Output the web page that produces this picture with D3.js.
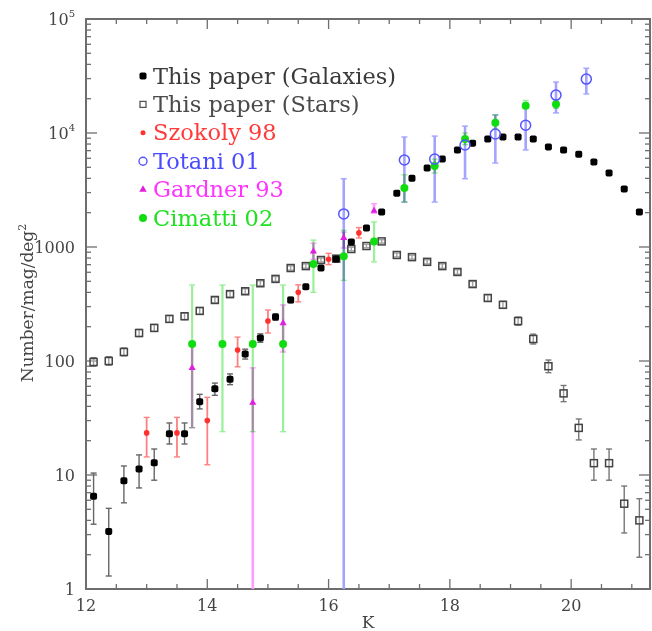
<!DOCTYPE html>
<html>
<head>
<meta charset="utf-8">
<script src="https://cdn.jsdelivr.net/npm/d3@7"></script>
<style>
    body { margin: 0; background: #fff; }
    svg { display: block; }
    text { font-family: "DejaVu Serif", serif; }
</style>
</head>
<body>
<svg id="chart"></svg>
<script>
// K magnitude bins (0.25 mag) shared by the two "this paper" series
var binK = [12.125, 12.375, 12.625, 12.875, 13.125, 13.375, 13.625, 13.875, 14.125, 14.375,
    14.625, 14.875, 15.125, 15.375, 15.625, 15.875, 16.125, 16.375, 16.625, 16.875,
    17.125, 17.375, 17.625, 17.875, 18.125, 18.375, 18.625, 18.875, 19.125, 19.375,
    19.625, 19.875, 20.125, 20.375, 20.625, 20.875, 21.125];

var galN  = [6.5, 3.2, 8.9, 11.3, 12.8, 23, 23, 44, 57, 69,
    115, 159, 243, 343, 447, 654, 785, 1106, 1468, 2028,
    2960, 4000, 4920, 5900, 7100, 8150, 8860, 9230, 9230, 8860,
    7550, 7100, 6500, 5570, 4460, 3230, 2030];
var galLo = [3.7, 1.3, 5.7, 7.7, 9.0, 18.7, 18.7, 38, 50, 62, 104, 146, 228, 325];
var galHi = [10.4, 5.1, 12, 15, 16.9, 28.6, 28.6, 51, 64, 77, 127, 173, 259, 362];

var starN  = [98, 100, 120, 176, 195, 234, 247, 275, 343, 386,
    409, 481, 525, 654, 680, 769, 790, 960, 1020, 1120,
    851, 815, 741, 680, 604, 473, 357, 311, 224, 156,
    90, 52, 25.9, 12.7, 12.7, 5.6, 4.0];
var starLo = [90, 92, 111, 164, 182, 219, 231, 258, 324, 365,
    388, 458, 500, 626, 651, 738, 758, 925, 984, 1082,
    818, 783, 710, 650, 576, 448, 335, 290, 206, 141,
    79, 44, 20.3, 9.0, 9.0, 3.1, 1.9];
var starHi = [107, 109, 130, 189, 209, 250, 263, 293, 363, 408,
    431, 505, 551, 683, 710, 801, 822, 996, 1057, 1159,
    885, 848, 773, 711, 633, 499, 380, 333, 243, 172,
    102, 61, 31, 16.9, 16.9, 8.0, 6.2];

var szoK  = [13.0, 13.5, 14.0, 14.5, 15.0, 15.5, 16.0, 16.5];
var szoN  = [23.4, 23.4, 30, 125, 224, 400, 780, 1330];
var szoLo = [14.4, 14.4, 12.3, 89, 176, 330, 700, 1200];
var szoHi = [32, 32, 48, 162, 280, 466, 880, 1480];

var totK  = [16.25, 17.25, 17.75, 18.25, 18.75, 19.25, 19.75, 20.25];
var totN  = [1950, 5800, 5900, 7850, 9800, 11700, 21500, 29700];
var totLo = [0.1, 2480, 2480, 3970, 5450, 7100, 15000, 22000];
var totHi = [3970, 9230, 9400, 11500, 14400, 18300, 28000, 37000];

var garK  = [13.75, 14.75, 15.25, 15.75, 16.25, 16.75];
var garN  = [87, 43, 215, 915, 1200, 2080];
var garLo = [26, 0.1, 120, 780, 980, 1980];
var garHi = [140, 87, 310, 1080, 1350, 2400];

var cimK  = [13.75, 14.25, 14.75, 15.25, 15.75, 16.25, 16.75, 17.25, 17.75, 18.25, 18.75, 19.25, 19.75];
var cimN  = [141, 141, 141, 141, 710, 830, 1120, 3300, 5130, 8860, 12300, 17300, 17900];
var cimLo = [26, 24, 24, 24, 400, 510, 740, 2480, 4460, 7900, 10900, 16400, 16500];
var cimHi = [464, 464, 464, 464, 1150, 1400, 1660, 4300, 5900, 10000, 14400, 19300, 19500];

var legendLabels = ["This paper (Galaxies)", "This paper (Stars)", "Szokoly 98", "Totani 01", "Gardner 93", "Cimatti 02"];
var xMajor = [12, 14, 16, 18, 20];
var yMajor = [1, 10, 100, 1000, 1e4, 1e5];
var yLabels = [["1"], ["10"], ["100"], ["1000"], ["10", "4"], ["10", "5"]];

var W = 652, H = 631,
    margin = {top: 19, right: 2, bottom: 42, left: 86},
    width = W - margin.left - margin.right,
    height = H - margin.top - margin.bottom,
    axisColor = "#6e6e6e";

var svg = d3.select("#chart")
    .attr("width", W)
    .attr("height", H);

var x = d3.scaleLinear().domain([12, 21.3]).range([0, width]);
var y = d3.scaleLog().domain([1, 1e5]).range([height, 0]);

svg.append("defs").append("clipPath")
    .attr("id", "plotclip")
    .append("rect")
    .attr("width", width)
    .attr("height", height);

var g = svg.append("g")
    .attr("transform", "translate(" + margin.left + "," + margin.top + ")");

// ticks, inward on all four sides
var minorX = d3.range(12, 21.31, 0.5).filter(function(v){ return v % 2 !== 0; });
var minorY = [];
for(var d = 1; d < 1e5; d *= 10){
    for(var m = 2; m < 10; m++) minorY.push(d * m);
}

var ticks = g.append("g")
    .attr("stroke", axisColor)
    .attr("stroke-width", 1.3);

function xTicks(vals, len){
    vals.forEach(function(v){
        ticks.append("line").attr("x1", x(v)).attr("x2", x(v)).attr("y1", height).attr("y2", height - len);
        ticks.append("line").attr("x1", x(v)).attr("x2", x(v)).attr("y1", 0).attr("y2", len);
    });
}
function yTicks(vals, len){
    vals.forEach(function(v){
        ticks.append("line").attr("x1", 0).attr("x2", len).attr("y1", y(v)).attr("y2", y(v));
        ticks.append("line").attr("x1", width).attr("x2", width - len).attr("y1", y(v)).attr("y2", y(v));
    });
}
xTicks(xMajor, 10);
xTicks(minorX, 5);
yTicks(yMajor, 11);
yTicks(minorY, 5);

g.append("rect")
    .attr("width", width)
    .attr("height", height)
    .attr("fill", "none")
    .attr("stroke", axisColor)
    .attr("stroke-width", 2);

// tick labels
g.selectAll(".xlab")
    .data(xMajor)
    .enter()
    .append("text")
    .attr("class", "xlab")
    .attr("x", function(d){ return x(d); })
    .attr("y", height + 22)
    .attr("text-anchor", "middle")
    .attr("font-size", 16)
    .attr("fill", "#444")
    .text(function(d){ return d; });

var ylab = g.selectAll(".ylab")
    .data(yMajor)
    .enter()
    .append("text")
    .attr("class", "ylab")
    .attr("x", -11)
    .attr("y", function(d){ return y(d) + 6; })
    .attr("text-anchor", "end")
    .attr("font-size", 16)
    .attr("fill", "#444");
ylab.each(function(d, i){
    var t = d3.select(this);
    t.append("tspan").text(yLabels[i][0]);
    if(yLabels[i].length > 1){
        t.append("tspan").attr("font-size", 10).attr("dy", -8).text(yLabels[i][1]);
    }
});

// axis titles
svg.append("text")
    .attr("x", margin.left + width / 2)
    .attr("y", 628)
    .attr("text-anchor", "middle")
    .attr("font-size", 17)
    .attr("fill", "#444")
    .text("K");

var yt = svg.append("text")
    .attr("transform", "translate(33,303) rotate(-90)")
    .attr("text-anchor", "middle")
    .attr("font-size", 17)
    .attr("fill", "#444");
yt.append("tspan").text("Number/mag/deg");
yt.append("tspan").attr("font-size", 11).attr("dy", -7).text("2");

// data
var plot = g.append("g").attr("clip-path", "url(#plotclip)");

function errorBars(ks, lo, hi, color, lw){
    var rows = [];
    for(var i = 0; i < ks.length; i++){
        if(lo[i] == null) continue;
        rows.push({k: ks[i], lo: lo[i], hi: hi[i]});
    }
    var eg = plot.append("g")
        .attr("stroke", color)
        .attr("stroke-width", lw)
        .style("mix-blend-mode", "multiply");
    eg.selectAll("line.v")
        .data(rows)
        .enter()
        .append("line")
        .attr("x1", function(d){ return x(d.k); })
        .attr("x2", function(d){ return x(d.k); })
        .attr("y1", function(d){ return y(Math.max(d.lo, 0.01)); })
        .attr("y2", function(d){ return y(d.hi); });
    ["lo", "hi"].forEach(function(end){
        eg.selectAll("line." + end)
            .data(rows)
            .enter()
            .append("line")
            .attr("stroke-width", 1.4)
            .attr("x1", function(d){ return x(d.k) - 3; })
            .attr("x2", function(d){ return x(d.k) + 3; })
            .attr("y1", function(d){ return y(Math.max(d[end], 0.01)); })
            .attr("y2", function(d){ return y(Math.max(d[end], 0.01)); });
    });
}

function zip(ks, ns){
    return ks.map(function(k, i){ return {k: k, n: ns[i]}; });
}

errorBars(binK, starLo, starHi, "#777", 1.4);
errorBars(binK, galLo, galHi, "#666", 1.4);
errorBars(szoK, szoLo, szoHi, "#ff8080", 1.8);
errorBars(cimK, cimLo, cimHi, "#9af09a", 2.2);
errorBars(garK, garLo, garHi, "#ff9cff", 2.6);
errorBars(totK, totLo, totHi, "#a4a4ff", 2.6);

var sym = d3.symbol();

plot.append("g").selectAll("rect")
    .data(zip(binK, starN))
    .enter()
    .append("rect")
    .attr("x", function(d){ return x(d.k) - 3.5; })
    .attr("y", function(d){ return y(d.n) - 3.5; })
    .attr("width", 7)
    .attr("height", 7)
    .attr("fill", "#fff")
    .attr("fill-opacity", 0.3)
    .attr("stroke", "#444")
    .attr("stroke-width", 1.5);

plot.append("g").selectAll("rect")
    .data(zip(binK, galN))
    .enter()
    .append("rect")
    .attr("x", function(d){ return x(d.k) - 3.5; })
    .attr("y", function(d){ return y(d.n) - 3.5; })
    .attr("width", 7)
    .attr("height", 7)
    .attr("rx", 1.8)
    .attr("fill", "#000");

plot.append("g").selectAll("circle")
    .data(zip(szoK, szoN))
    .enter()
    .append("circle")
    .attr("cx", function(d){ return x(d.k); })
    .attr("cy", function(d){ return y(d.n); })
    .attr("r", 2.8)
    .attr("fill", "#ff3030");

plot.append("g").selectAll("path")
    .data(zip(garK, garN))
    .enter()
    .append("path")
    .attr("d", sym.type(d3.symbolTriangle).size(22)())
    .attr("transform", function(d){ return "translate(" + x(d.k) + "," + y(d.n) + ")"; })
    .attr("fill", "#e020e0");

plot.append("g").selectAll("circle")
    .data(zip(cimK, cimN))
    .enter()
    .append("circle")
    .attr("cx", function(d){ return x(d.k); })
    .attr("cy", function(d){ return y(d.n); })
    .attr("r", 4)
    .attr("fill", "#10dd10");

plot.append("g").selectAll("circle")
    .data(zip(totK, totN))
    .enter()
    .append("circle")
    .attr("cx", function(d){ return x(d.k); })
    .attr("cy", function(d){ return y(d.n); })
    .attr("r", 5)
    .attr("fill", "none")
    .attr("stroke", "#5555ff")
    .attr("stroke-width", 1.5);

// legend
var legendColors = ["#3a3a3a", "#4a4a4a", "#ff3a3a", "#4a4aff", "#ff33ff", "#22e022"];
var legend = svg.append("g");
legendLabels.forEach(function(label, i){
    var cy = 76 + i * 28.4, cx = 143;
    var row = legend.append("g");
    if(i === 0){
        row.append("rect").attr("x", cx - 3.5).attr("y", cy - 3.5).attr("width", 7).attr("height", 7).attr("rx", 1.8).attr("fill", "#000");
    }else if(i === 1){
        row.append("rect").attr("x", cx - 3).attr("y", cy - 3).attr("width", 6).attr("height", 6).attr("fill", "none").attr("stroke", "#555").attr("stroke-width", 1.3);
    }else if(i === 2){
        row.append("circle").attr("cx", cx).attr("cy", cy).attr("r", 2.5).attr("fill", "#ff3030");
    }else if(i === 3){
        row.append("circle").attr("cx", cx).attr("cy", cy).attr("r", 4).attr("fill", "none").attr("stroke", "#5555ff").attr("stroke-width", 1.4);
    }else if(i === 4){
        row.append("path").attr("d", sym.type(d3.symbolTriangle).size(24)()).attr("transform", "translate(" + cx + "," + cy + ")").attr("fill", "#e020e0");
    }else{
        row.append("circle").attr("cx", cx).attr("cy", cy).attr("r", 4).attr("fill", "#10dd10");
    }
    row.append("text")
        .attr("x", 153)
        .attr("y", cy + 7.5)
        .attr("font-size", 22.5)
        .attr("fill", legendColors[i])
        .text(label);
});
</script>
</body>
</html>
